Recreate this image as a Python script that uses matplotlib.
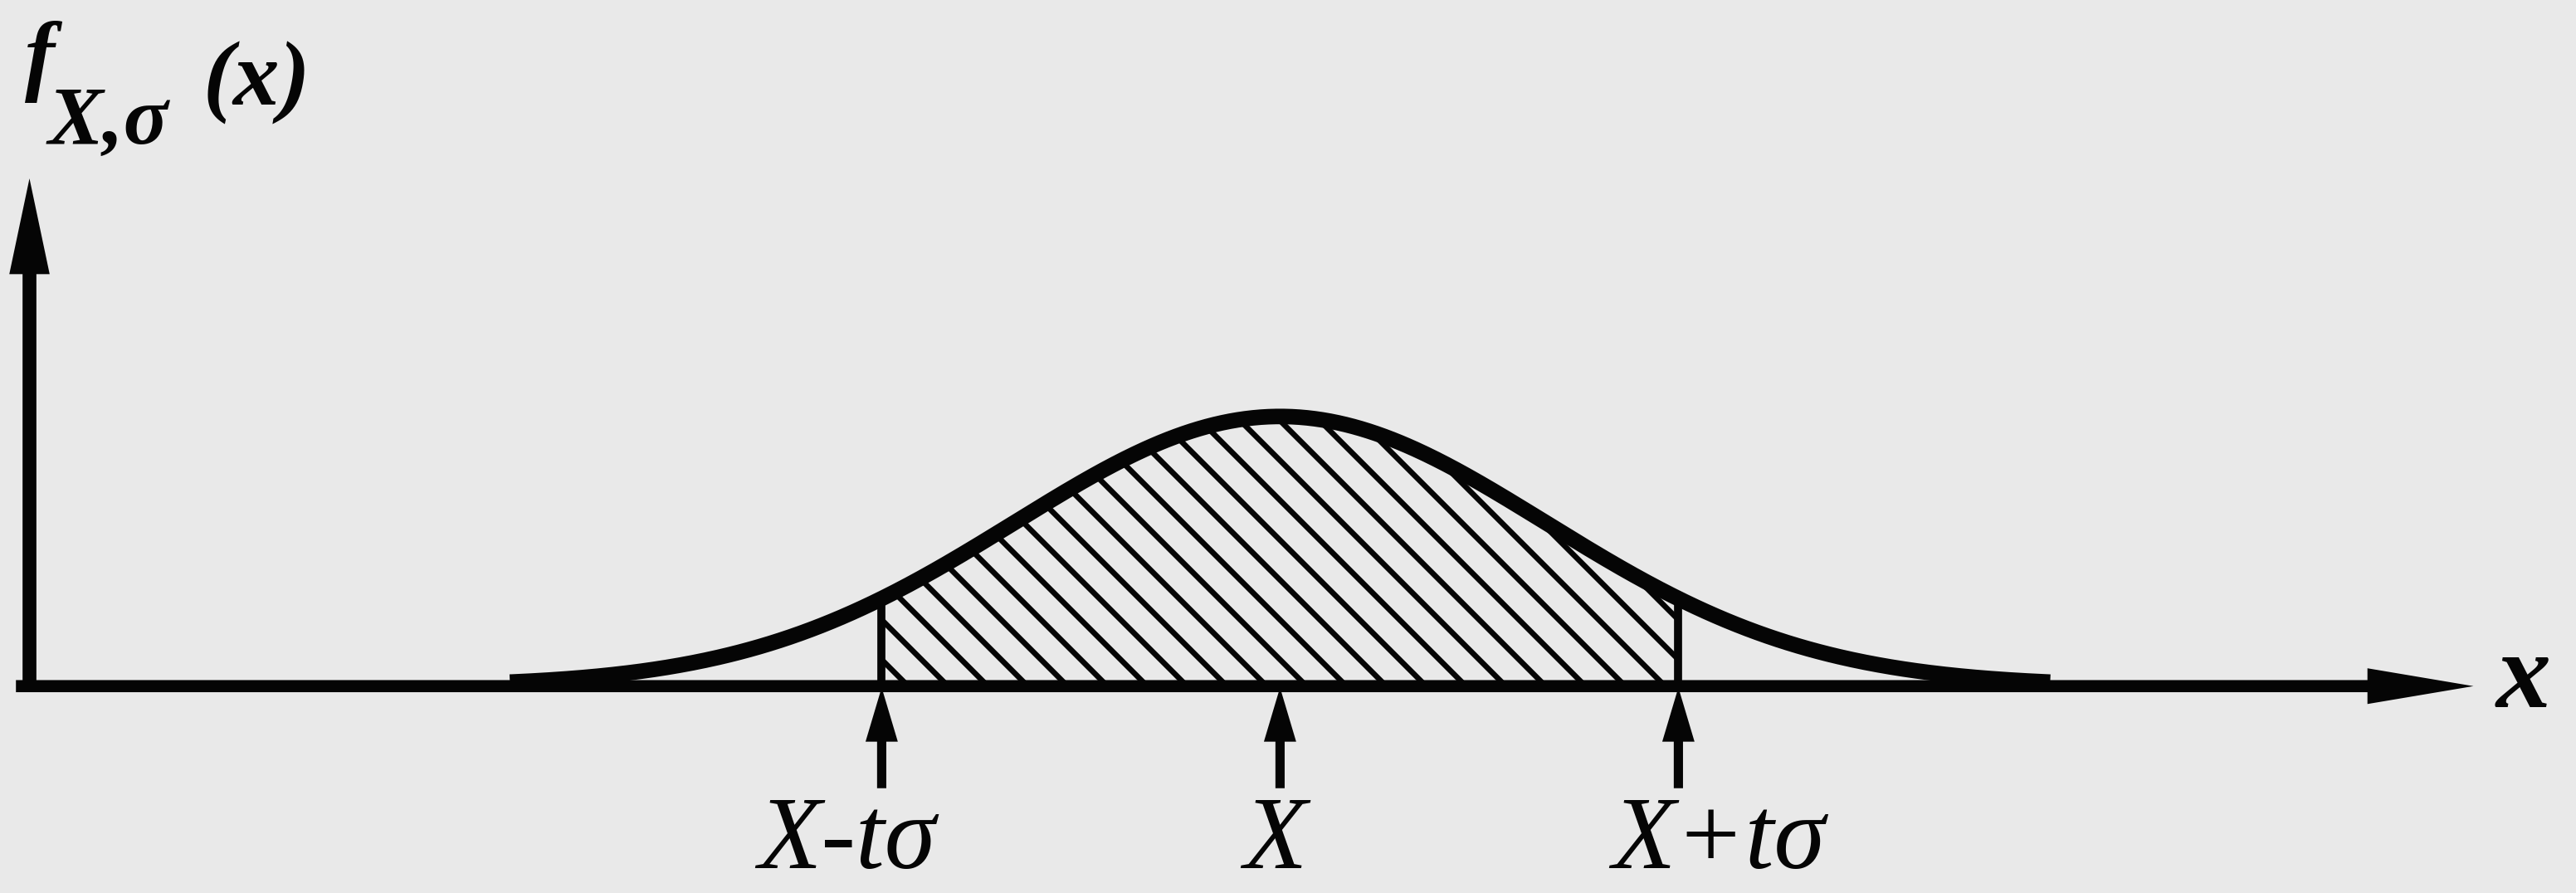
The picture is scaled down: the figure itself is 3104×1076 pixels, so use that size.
import numpy as np
import matplotlib
matplotlib.use('Agg')
from matplotlib import pyplot as plt
from matplotlib.collections import LineCollection
from matplotlib import transforms

# normal density f_{X,sigma}(x), area shaded between X - t*sigma and X + t*sigma
mu = 0.0
sigma = 1.0
t = 1.5
tick_pos = [mu - t * sigma, mu, mu + t * sigma]
tick_labels = ['X-tσ', 'X', 'X+tσ']
tick_shift = [-42, -6, 48]          # label offset from its arrow, pixels

bg = '#e9e9e9'
ink = '#050505'


def pdf(x):
    return np.exp(-0.5 * ((x - mu) / sigma) ** 2) / (sigma * np.sqrt(2 * np.pi))


def arrow(ax, x0, y0, x1, y1, head_len, head_w, tail_w):
    # filled arrow, sizes in points
    ax.annotate('', xy=(x1, y1), xytext=(x0, y0),
                arrowprops=dict(arrowstyle='simple,head_length=%g,head_width=%g,tail_width=%g'
                                % (head_len, head_w, tail_w),
                                mutation_scale=1, fc=ink, ec=ink, lw=0,
                                shrinkA=0, shrinkB=0))


fig = plt.figure(figsize=(31.04, 10.76), dpi=100)
fig.patch.set_facecolor(bg)
ax = fig.add_axes([0, 0, 1, 1])
ax.set_facecolor(bg)
ax.set_xlim(mu - 4.82 * sigma, mu + 4.88 * sigma)
ax.set_ylim(-0.306, 1.015)
ax.axis('off')

# axes with arrow heads
arrow(ax, mu - 4.76 * sigma, 0, mu + 4.494 * sigma, 0, 92, 31, 10.5)
arrow(ax, mu - 4.709 * sigma, -0.008, mu - 4.709 * sigma, 0.751, 83, 35, 12)

# curve
xs = np.linspace(mu - 2.9 * sigma, mu + 2.9 * sigma, 600)
ax.plot(xs, pdf(xs), color=ink, lw=13.5, solid_capstyle='butt', zorder=4)

# shaded band with 45 degree hatching
xb = np.linspace(tick_pos[0], tick_pos[2], 400)
band = ax.fill_between(xb, 0, pdf(xb), facecolor='none', edgecolor='none')
k = 320 / 814.7                     # keeps the hatch at 45 degrees on screen
segs = []
for c in np.arange(tick_pos[0] - 0.2, tick_pos[2] + 1.3, 0.15):
    segs.append([(c + 0.1, -0.1 * k), (c - 1.4, 1.4 * k)])
hatch = LineCollection(segs, colors=ink, linewidths=4.8, zorder=3)
ax.add_collection(hatch)
hatch.set_clip_path(band.get_paths()[0], ax.transData)

for xe in (tick_pos[0], tick_pos[2]):
    ax.plot([xe, xe], [0, pdf(xe)], color=ink, lw=7, solid_capstyle='butt', zorder=3)

# markers and labels under the axis
for xp, lab, dx in zip(tick_pos, tick_labels, tick_shift):
    arrow(ax, xp, -0.151, xp, -0.002, 47, 28, 8)
    tr = transforms.offset_copy(ax.transData, fig=fig, x=dx, y=0, units='dots')
    ax.text(xp, -0.269, lab, transform=tr, ha='center', va='baseline',
            fontsize=90, fontstyle='italic', family=['Liberation Serif', 'DejaVu Serif'],
            color=ink)

W, H = 3104, 1076
serif = ['Liberation Serif', 'DejaVu Serif']
fig.text(3041 / W, 1 - 852 / H, 'x', ha='center', va='baseline', fontsize=95,
         fontstyle='italic', fontweight='bold', family=serif, color=ink)

# y label f_{X,sigma}(x)
fig.text(30 / W, 1 - 101 / H, 'f', ha='left', va='baseline', fontsize=78,
         fontstyle='italic', fontweight='bold', family=serif, color=ink)
fig.text(58 / W, 1 - 173 / H, 'X,σ', ha='left', va='baseline', fontsize=72,
         fontstyle='italic', fontweight='bold', family=serif, color=ink)
fig.text(245 / W, 1 - 127 / H, '(x)', ha='left', va='baseline', fontsize=80,
         fontstyle='italic', fontweight='bold', family=serif, color=ink)

plt.savefig('out.png', dpi=100, facecolor=fig.get_facecolor())
